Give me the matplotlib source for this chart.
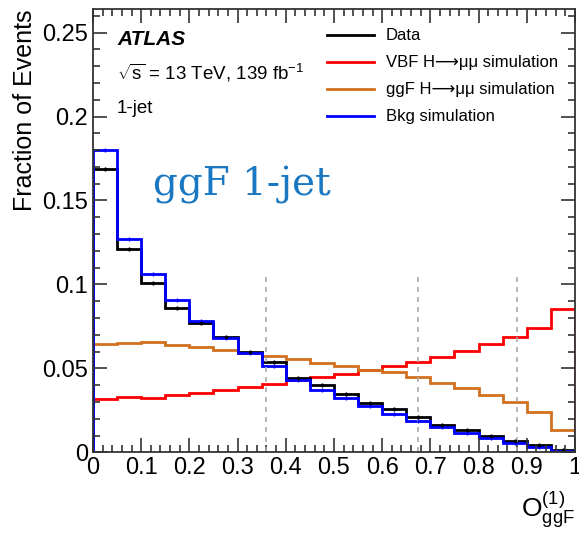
import matplotlib
matplotlib.use('Agg')
import matplotlib.pyplot as plt
import numpy as np
from matplotlib.ticker import MultipleLocator
from matplotlib.lines import Line2D

plt.rcParams['font.family'] = ['Liberation Sans', 'DejaVu Sans']
plt.rcParams['mathtext.fontset'] = 'custom'
plt.rcParams['mathtext.rm'] = 'Liberation Sans'
plt.rcParams['mathtext.it'] = 'Liberation Sans:italic'
plt.rcParams['mathtext.bf'] = 'Liberation Sans:bold'

# 20 bins on O_ggF in [0, 1]
bin_edges = np.linspace(0, 1, 21)

data_frac = [0.169, 0.121, 0.101, 0.086, 0.077, 0.0685, 0.060, 0.054, 0.0444, 0.040,
             0.0345, 0.0292, 0.0256, 0.0212, 0.0163, 0.0133, 0.0099, 0.0067, 0.0043, 0.0014]
bkg_frac = [0.180, 0.127, 0.106, 0.0905, 0.078, 0.068, 0.059, 0.0514, 0.043, 0.0371,
            0.0321, 0.0276, 0.0228, 0.0186, 0.0152, 0.0113, 0.0083, 0.0057, 0.0030, 0.0010]
ggf_frac = [0.0645, 0.0652, 0.0656, 0.0639, 0.0629, 0.0609, 0.0593, 0.0573, 0.0553, 0.0530,
            0.0514, 0.0490, 0.0478, 0.0446, 0.0411, 0.0381, 0.0341, 0.0301, 0.0242, 0.0133]
vbf_frac = [0.0320, 0.0329, 0.0321, 0.0339, 0.0351, 0.0371, 0.0389, 0.0405, 0.0430, 0.0450,
            0.0466, 0.0490, 0.0514, 0.0539, 0.0569, 0.0605, 0.0645, 0.0684, 0.0738, 0.0851]
data_err = 0.0012
cut_values = [0.36, 0.675, 0.88]
cut_top = 0.107

x_ticks = [0, 0.1, 0.2, 0.3, 0.4, 0.5, 0.6, 0.7, 0.8, 0.9, 1]
x_ticklabels = ['0', '0.1', '0.2', '0.3', '0.4', '0.5', '0.6', '0.7', '0.8', '0.9', '1']
y_ticks = [0, 0.05, 0.1, 0.15, 0.2, 0.25]
y_ticklabels = ['0', '0.05', '0.1', '0.15', '0.2', '0.25']

fig = plt.figure(figsize=(5.79, 5.33), dpi=100)
ax = fig.add_axes([0.1606, 0.1514, 0.8324, 0.8316])

centers = 0.5 * (bin_edges[:-1] + bin_edges[1:])

ax.vlines(cut_values, 0, cut_top, colors='#aaaaaa', linestyles=(0, (3, 3)), lw=1.2)

ax.stairs(vbf_frac, bin_edges, color='#ff0000', lw=2)
ax.stairs(ggf_frac, bin_edges, color='#d2701e', lw=2)
ax.stairs(data_frac, bin_edges, color='black', lw=2)
ax.errorbar(centers, data_frac, yerr=data_err, fmt='o', ms=1.5, color='black', lw=1)
ax.stairs(bkg_frac, bin_edges, color='#0000ff', lw=2)
ax.errorbar(centers, bkg_frac, yerr=data_err, fmt='none', color='#0000ff', lw=1)

ax.set_xlim(0, 1)
ax.set_ylim(0, 0.264)
ax.set_xticks(x_ticks)
ax.set_xticklabels(x_ticklabels)
ax.set_yticks(y_ticks)
ax.set_yticklabels(y_ticklabels)
ax.xaxis.set_minor_locator(MultipleLocator(0.02))
ax.yaxis.set_minor_locator(MultipleLocator(0.01))
ax.tick_params(which='both', direction='in', top=True, right=True, labelsize=17,
               colors='#333333', labelcolor='black')
ax.tick_params(which='major', length=10, width=1.2)
ax.tick_params(which='minor', length=5, width=1.2)
for s in ax.spines.values():
    s.set_linewidth(1.3)
    s.set_color('#333333')

ax.set_ylabel('Fraction of Events', fontsize=18, loc='top')
ax.yaxis.set_label_coords(-0.117, 1.0)
ax.set_xlabel(r'$\mathregular{O^{(1)}_{ggF}}$', fontsize=19, loc='right')
ax.xaxis.set_label_coords(1.0, -0.085)

ax.text(0.05, 0.2425, 'ATLAS', fontsize=15, fontweight='bold', fontstyle='italic')
ax.text(0.05, 0.226, r'$\sqrt{\mathregular{s}}$ = 13 TeV, 139 fb$^{-1}$', fontsize=13.5, va='center')
ax.text(0.05, 0.205, '1-jet', fontsize=13.5, va='center')
ax.text(0.125, 0.159, 'ggF 1-jet', fontsize=28, family='DejaVu Serif', color='#1a78c2', va='center')

leg_labels = ['Data', 'VBF H\u27f6\u03bc\u03bc simulation', 'ggF H\u27f6\u03bc\u03bc simulation', 'Bkg simulation']
leg_colors = ['black', '#ff0000', '#d2701e', '#0000ff']
handles = [Line2D([], [], color=c, lw=2) for c in leg_colors]
ax.legend(handles, leg_labels, loc='upper left', bbox_to_anchor=(0.455, 0.99),
          frameon=False, fontsize=12, handlelength=2.8, labelspacing=0.72, handletextpad=0.72)

fig.savefig('out.png', dpi=100)
